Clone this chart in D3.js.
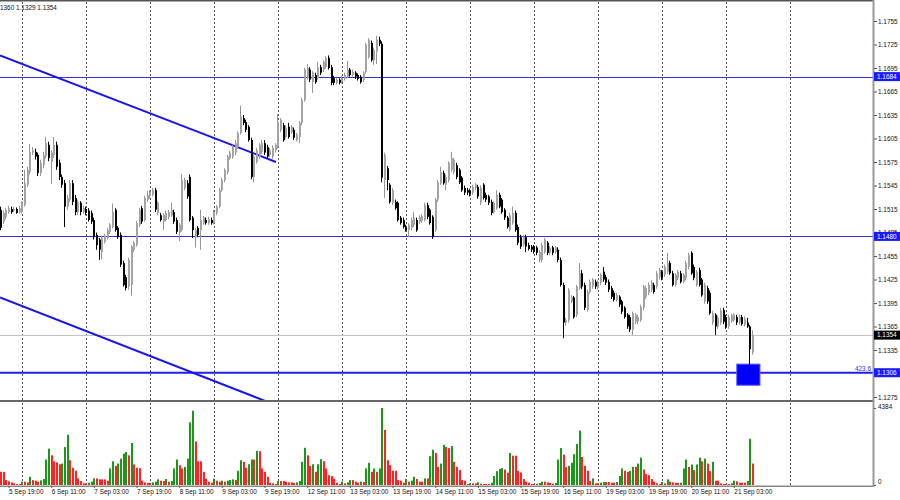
<!DOCTYPE html>
<html><head><meta charset="utf-8">
<script src="https://cdn.jsdelivr.net/npm/d3@7"></script>
<style>
body{margin:0;background:#fff}
svg{display:block}
text{font-family:"Liberation Sans",Arial,sans-serif}
</style>
</head><body>
<svg id="c" width="900" height="500"></svg>
<script>
// GBPUSD H1 — prices in pips (price x 10000)
const openP=[11514,11499,11505,11511,11515,11513,11515,11511,11511,11520,
11546,11562,11587,11588,11584,11561,11571,11583,11597,11575,
11584,11597,11574,11556,11548,11518,11527,11548,11529,11511,
11523,11511,11515,11513,11510,11501,11482,11476,11460,11473,
11478,11486,11492,11514,11491,11482,11446,11428,11416,11418,
11463,11469,11495,11516,11501,11527,11531,11533,11539,11510,
11507,11499,11501,11505,11507,11511,11501,11485,11488,11542,
11548,11556,11504,11479,11491,11488,11497,11501,11497,11501,
11497,11510,11518,11539,11552,11562,11580,11582,11587,11594,
11612,11631,11626,11620,11603,11556,11575,11582,11588,11599,
11594,11584,11582,11590,11594,11616,11622,11607,11620,11613,
11616,11603,11607,11625,11654,11682,11693,11677,11686,11682,
11696,11693,11696,11708,11696,11682,11676,11680,11677,11681,
11684,11693,11686,11689,11686,11684,11680,11690,11709,11727,
11705,11716,11731,11726,11552,11567,11546,11523,11524,11523,
11504,11501,11492,11488,11491,11495,11501,11499,11500,11501,
11520,11514,11505,11488,11527,11548,11561,11546,11552,11565,
11562,11571,11565,11555,11542,11539,11538,11536,11542,11543,
11523,11546,11533,11531,11524,11511,11516,11533,11527,11514,
11504,11488,11497,11510,11492,11479,11469,11479,11469,11467,
11467,11466,11450,11450,11460,11472,11459,11466,11460,11463,
11450,11418,11370,11373,11397,11402,11380,11414,11433,11418,
11386,11409,11416,11422,11414,11421,11435,11428,11422,11414,
11408,11399,11403,11397,11389,11380,11377,11361,11371,11371,
11373,11389,11403,11408,11412,11418,11416,11428,11435,11431,
11435,11446,11433,11418,11427,11433,11422,11427,11441,11459,
11441,11418,11437,11425,11397,11414,11408,11370,11380,11365,
11370,11386,11377,11365,11372,11373,11377,11370,11377,11367,
11370,11365,11332];
const highP=[11518,11513,11516,11519,11518,11518,11517,11519,11525,11565,
11569,11598,11594,11592,11587,11578,11588,11607,11601,11590,
11607,11601,11578,11559,11552,11533,11552,11552,11533,11527,
11525,11519,11518,11516,11513,11504,11485,11478,11481,11483,
11491,11497,11522,11516,11493,11485,11449,11431,11453,11469,
11474,11500,11516,11519,11532,11538,11539,11542,11542,11525,
11510,11510,11513,11514,11523,11514,11504,11497,11560,11555,
11552,11559,11506,11491,11493,11514,11506,11504,11505,11504,
11514,11520,11542,11555,11567,11584,11589,11597,11603,11614,
11647,11635,11629,11622,11606,11584,11593,11599,11603,11603,
11597,11593,11596,11599,11636,11631,11625,11622,11625,11622,
11619,11612,11627,11657,11695,11700,11696,11691,11689,11703,
11699,11705,11710,11711,11699,11685,11682,11682,11685,11689,
11704,11695,11693,11691,11688,11686,11691,11727,11733,11730,
11721,11736,11735,11729,11587,11570,11548,11542,11527,11525,
11506,11504,11495,11497,11504,11511,11504,11507,11509,11523,
11523,11516,11507,11529,11552,11569,11564,11559,11576,11588,
11580,11574,11567,11557,11545,11542,11541,11546,11548,11546,
11545,11548,11536,11533,11527,11525,11539,11536,11529,11516,
11506,11510,11518,11513,11495,11482,11482,11482,11472,11469,
11469,11468,11463,11472,11478,11474,11468,11468,11468,11466,
11453,11421,11376,11414,11405,11404,11418,11446,11437,11421,
11412,11425,11427,11425,11424,11433,11441,11431,11425,11417,
11411,11408,11405,11399,11391,11382,11380,11384,11382,11380,
11393,11418,11417,11421,11424,11421,11436,11440,11437,11444,
11459,11449,11436,11433,11437,11436,11433,11449,11459,11461,
11444,11437,11440,11427,11421,11417,11411,11385,11382,11379,
11389,11389,11380,11380,11381,11382,11380,11380,11380,11378,
11376,11367,11360];
const lowP=[11488,11496,11502,11509,11509,11511,11509,11509,11509,11518,
11543,11559,11584,11578,11557,11557,11567,11580,11576,11547,
11580,11565,11552,11542,11492,11514,11524,11520,11507,11507,
11507,11509,11507,11499,11496,11476,11463,11450,11451,11471,
11476,11483,11490,11486,11477,11441,11416,11411,11412,11404,
11460,11467,11492,11496,11499,11524,11528,11531,11511,11507,
11499,11488,11499,11502,11505,11496,11483,11474,11486,11539,
11528,11499,11478,11466,11479,11463,11495,11495,11495,11495,
11495,11507,11516,11537,11549,11559,11578,11579,11584,11592,
11610,11622,11613,11601,11553,11549,11573,11579,11585,11584,
11579,11582,11579,11587,11592,11613,11601,11605,11605,11611,
11603,11601,11599,11622,11652,11680,11677,11663,11675,11680,
11686,11690,11694,11693,11673,11673,11674,11674,11675,11679,
11682,11684,11684,11681,11679,11675,11677,11688,11707,11703,
11699,11700,11723,11549,11529,11539,11522,11520,11514,11499,
11495,11490,11486,11479,11488,11492,11486,11496,11497,11499,
11502,11495,11477,11486,11524,11546,11546,11539,11549,11562,
11559,11553,11547,11537,11533,11533,11531,11533,11539,11528,
11520,11527,11524,11520,11507,11509,11514,11516,11509,11501,
11490,11486,11495,11486,11469,11464,11467,11460,11462,11460,
11458,11456,11447,11447,11458,11456,11456,11456,11458,11447,
11416,11350,11366,11370,11395,11375,11377,11412,11413,11386,
11384,11407,11413,11413,11412,11418,11422,11418,11409,11400,
11397,11397,11390,11381,11375,11362,11358,11354,11368,11368,
11371,11386,11400,11405,11409,11407,11413,11425,11424,11428,
11432,11431,11416,11416,11424,11420,11420,11424,11438,11431,
11424,11416,11416,11403,11394,11394,11380,11367,11354,11362,
11367,11368,11362,11362,11370,11371,11367,11367,11366,11365,
11363,11303,11329];
const closeP=[11491,11510,11514,11516,11511,11515,11510,11516,11523,11548,
11565,11588,11590,11582,11561,11574,11584,11599,11580,11587,
11597,11569,11556,11546,11518,11529,11548,11524,11511,11524,
11511,11516,11510,11501,11499,11479,11469,11463,11478,11481,
11488,11495,11511,11488,11479,11444,11418,11414,11450,11467,
11472,11497,11514,11499,11529,11533,11537,11539,11514,11523,
11501,11507,11510,11511,11514,11499,11486,11495,11552,11552,
11531,11501,11488,11488,11482,11501,11504,11497,11502,11497,
11511,11518,11539,11552,11565,11582,11587,11594,11599,11612,
11633,11625,11616,11603,11556,11582,11590,11597,11599,11587,
11582,11590,11593,11597,11626,11629,11603,11619,11607,11620,
11606,11610,11625,11654,11693,11695,11680,11689,11677,11696,
11689,11703,11708,11695,11676,11676,11680,11676,11682,11686,
11693,11686,11690,11684,11681,11677,11689,11725,11731,11705,
11718,11731,11726,11555,11584,11552,11524,11539,11516,11501,
11497,11492,11488,11495,11501,11504,11488,11505,11506,11520,
11505,11497,11479,11527,11549,11562,11548,11556,11574,11580,
11578,11556,11549,11539,11536,11536,11534,11543,11546,11531,
11542,11529,11527,11523,11510,11523,11533,11518,11511,11504,
11492,11507,11510,11488,11472,11467,11479,11467,11464,11463,
11460,11459,11460,11469,11476,11459,11466,11459,11466,11450,
11418,11370,11373,11412,11403,11377,11416,11433,11416,11389,
11409,11422,11425,11416,11421,11431,11425,11421,11412,11403,
11399,11405,11393,11384,11377,11365,11361,11382,11380,11377,
11390,11416,11414,11418,11421,11409,11433,11437,11427,11441,
11446,11433,11418,11431,11435,11422,11431,11446,11456,11433,
11427,11435,11418,11405,11418,11397,11382,11382,11365,11376,
11386,11371,11365,11377,11379,11380,11370,11377,11368,11375,
11365,11336,11354];
const volume=[750,750,280,210,150,95,55,55,
190,190,150,470,280,245,190,265,340,1450,2070,1690,1350,1280,1180,1220,2160,2860,1410,980,810,375,225,95,
95,130,190,375,375,320,320,320,245,940,1350,1090,1220,1500,1790,1880,1690,2390,1170,980,960,245,150,115,
115,150,190,320,245,225,340,190,225,940,1450,1130,940,1030,1500,3570,4230,2480,1350,1350,750,360,190,130,
360,245,190,245,190,245,280,320,280,810,1410,1320,980,1180,1450,1450,1940,1920,940,750,470,130,95,55,
225,225,225,190,150,150,115,150,225,1320,2120,1690,1090,1180,750,1180,1470,1350,940,560,510,360,130,55,
190,95,150,280,280,190,130,190,170,940,1260,750,940,750,940,4384,3140,1410,1130,810,810,280,245,130,
340,190,245,470,340,190,190,375,375,1640,2010,1820,1030,1220,2290,2160,2100,2220,1320,1030,850,280,245,55,
95,95,95,150,75,55,55,55,130,510,790,920,960,880,700,1820,1670,1670,810,715,340,190,130,55,
55,75,115,190,190,150,115,75,115,1450,2100,1730,1015,1090,1260,1750,2330,3100,1600,1090,810,225,375,95,
95,130,170,170,170,130,130,170,510,940,810,750,810,1030,1030,1220,1560,880,620,560,340,190,95,55,
170,95,320,190,150,130,115,130,940,1450,1030,1170,850,1170,1560,1350,1500,1220,790,1320,245,245,95,55,
55,55,95,245,210,130,130,130,225,2630,1220];

const priceTicks=[11275,11305,11335,11365,11395,11425,11455,11485,11515,11545,11575,11605,11635,11665,11695,11725,11755];
const timeLabels=["5 Sep 19:00","6 Sep 11:00","7 Sep 03:00","7 Sep 19:00","8 Sep 11:00","9 Sep 03:00","9 Sep 19:00","12 Sep 11:00","13 Sep 03:00","13 Sep 19:00","14 Sep 11:00","15 Sep 03:00","15 Sep 19:00","16 Sep 11:00","19 Sep 03:00","19 Sep 19:00","20 Sep 11:00","21 Sep 03:00"];
const timeLabelIdx=[3,19,35,51,67,83,99,115,131,147,163,179,195,211,227,243,259,275];
const daySeparators=[8,32,56,80,104,128,152,176,200,224,248,272,296];
const hLevels=[11684,11480];
const fibLevel=11306, fibLabel="423.6";
const bidPrice=11354;
const trendUpper=[[-0.2,11711],[103.3,11575]];
const trendLower=[[-0.2,11402],[99.2,11270]];
const boxArea={i0:276.1,i1:284.8,p0:11317,p1:11290};
const volMax=4384;
const header="1360 1.1329 1.1354";

const svg=d3.select("#c");
const W=873;
const x=d3.scaleLinear().domain([0,282]).range([0.5,752.5]);
const y=d3.scaleLinear().domain([11275,11755]).range([397,21]);
const yv=d3.scaleLinear().domain([0,volMax]).range([485,408]);
const fmt=d=>(d/10000).toFixed(4);

svg.append("rect").attr("width",900).attr("height",500).attr("fill","#fff");
const defs=svg.append("defs");
defs.append("clipPath").attr("id","mainClip").append("rect").attr("x",0).attr("y",2).attr("width",W).attr("height",398);
defs.append("clipPath").attr("id","volClip").append("rect").attr("x",0).attr("y",403).attr("width",W).attr("height",83);

// separators
const gSep=svg.append("g");
daySeparators.forEach(i=>{
  const xx=Math.round(x(i))+0.5;
  gSep.append("line").attr("x1",xx).attr("x2",xx).attr("y1",2).attr("y2",400)
    .attr("stroke","#555").attr("stroke-dasharray","2,2");
  gSep.append("line").attr("x1",xx).attr("x2",xx).attr("y1",403).attr("y2",486)
    .attr("stroke","#555").attr("stroke-dasharray","2,2");
});

const gMain=svg.append("g").attr("clip-path","url(#mainClip)");
// horizontal levels
hLevels.forEach(p=>{
  gMain.append("line").attr("x1",0).attr("x2",W).attr("y1",Math.round(y(p))+0.5).attr("y2",Math.round(y(p))+0.5)
    .attr("stroke","#3434d6").attr("stroke-width",1);
});
gMain.append("line").attr("x1",0).attr("x2",W).attr("y1",Math.round(y(bidPrice))+0.5).attr("y2",Math.round(y(bidPrice))+0.5)
  .attr("stroke","#c4c4c4").attr("stroke-width",1);
gMain.append("line").attr("x1",0).attr("x2",W).attr("y1",y(fibLevel)).attr("y2",y(fibLevel))
  .attr("stroke","#1f1fe6").attr("stroke-width",2);
// trend lines
[trendUpper,trendLower].forEach(t=>{
  gMain.append("line").attr("x1",x(t[0][0])).attr("y1",y(t[0][1])).attr("x2",x(t[1][0])).attr("y2",y(t[1][1]))
    .attr("stroke","#1414f0").attr("stroke-width",2);
});
// rectangle object
gMain.append("rect").attr("x",x(boxArea.i0)).attr("y",y(boxArea.p0))
  .attr("width",x(boxArea.i1)-x(boxArea.i0)).attr("height",y(boxArea.p1)-y(boxArea.p0))
  .attr("fill","#0000ff").attr("stroke","#5c5cff").attr("stroke-width",1);

// candles
const idx=d3.range(openP.length);
const gC=gMain.append("g");
idx.forEach(i=>{
  const up=closeP[i]>=openP[i];
  const col=up?"#a3a3a3":"#000";
  const xc=Math.floor(x(i));
  gC.append("line").attr("x1",xc+0.5).attr("x2",xc+0.5).attr("y1",y(highP[i])).attr("y2",y(lowP[i]))
    .attr("stroke",up?"#959595":"#000").attr("stroke-width",1);
  const yt=y(Math.max(openP[i],closeP[i])), yb=y(Math.min(openP[i],closeP[i]));
  gC.append("rect").attr("x",xc).attr("y",yt).attr("width",2).attr("height",Math.max(1,yb-yt)).attr("fill",col);
});
gMain.append("text").attr("x",871).attr("y",371).attr("text-anchor","end")
  .attr("font-size","6.4px").attr("fill","#2a2aff").text(fibLabel);

// volume
const gV=svg.append("g").attr("clip-path","url(#volClip)");
idx.forEach(i=>{
  const g=i>0&&volume[i]>volume[i-1];
  const xc=Math.floor(x(i));
  gV.append("rect").attr("x",xc).attr("y",yv(volume[i])).attr("width",2).attr("height",yv(0)-yv(volume[i]))
    .attr("fill",g?"#1c961c":"#ff2424");
});

// frame
svg.append("rect").attr("x",0).attr("y",0).attr("width",W).attr("height",1.5).attr("fill","#555");
svg.append("rect").attr("x",0).attr("y",400).attr("width",W+1).attr("height",2).attr("fill","#666");
svg.append("rect").attr("x",0).attr("y",485.5).attr("width",W+1).attr("height",1.5).attr("fill","#888");
svg.append("rect").attr("x",W-0.5).attr("y",0).attr("width",2).attr("height",487).attr("fill","#9a9a9a");

// price axis
const ax=svg.append("g").attr("transform",`translate(${W+1},0)`)
  .call(d3.axisRight(y).tickValues(priceTicks).tickSize(3).tickPadding(1).tickFormat(fmt));
ax.select(".domain").remove();
ax.selectAll("line").attr("stroke","#555");
ax.selectAll("text").attr("font-size","6.4px").attr("fill","#111").attr("font-family","Liberation Sans, Arial, sans-serif");

// price boxes
function priceBox(p,bg){
  const yy=y(p);
  svg.append("rect").attr("x",W+1).attr("y",yy-4.5).attr("width",26).attr("height",9).attr("fill",bg);
  svg.append("text").attr("x",W+4).attr("y",yy).attr("dy","0.34em").attr("font-size","6.4px").attr("fill","#fff").text(fmt(p));
}
hLevels.forEach(p=>priceBox(p,"#1a1aff"));
priceBox(bidPrice,"#000");
priceBox(fibLevel,"#1a1aff");

// volume axis
const av=svg.append("g").attr("transform",`translate(${W+1},0)`)
  .call(d3.axisRight(yv).tickValues([0,volMax]).tickSize(2).tickPadding(2).tickFormat(d3.format("d")));
av.select(".domain").remove();
av.selectAll("line").attr("stroke","#555");
av.selectAll("text").attr("font-size","6.4px").attr("fill","#111").attr("font-family","Liberation Sans, Arial, sans-serif")
  .attr("dy",d=>d===0?"-1.3px":"0.9px");

// time axis
const at=svg.append("g").attr("transform","translate(0,486)")
  .call(d3.axisBottom(x).tickValues(timeLabelIdx).tickSize(2).tickPadding(1).tickFormat((d,k)=>timeLabels[k]));
at.select(".domain").remove();
at.selectAll("line").attr("stroke","#555");
at.selectAll("text").attr("text-anchor","start").attr("font-size","6.4px").attr("fill","#111")
  .attr("font-family","Liberation Sans, Arial, sans-serif");

// header
svg.append("text").attr("x",0).attr("y",9.5).attr("font-size","6.4px").attr("fill","#111").text(header);
</script>
</body></html>
